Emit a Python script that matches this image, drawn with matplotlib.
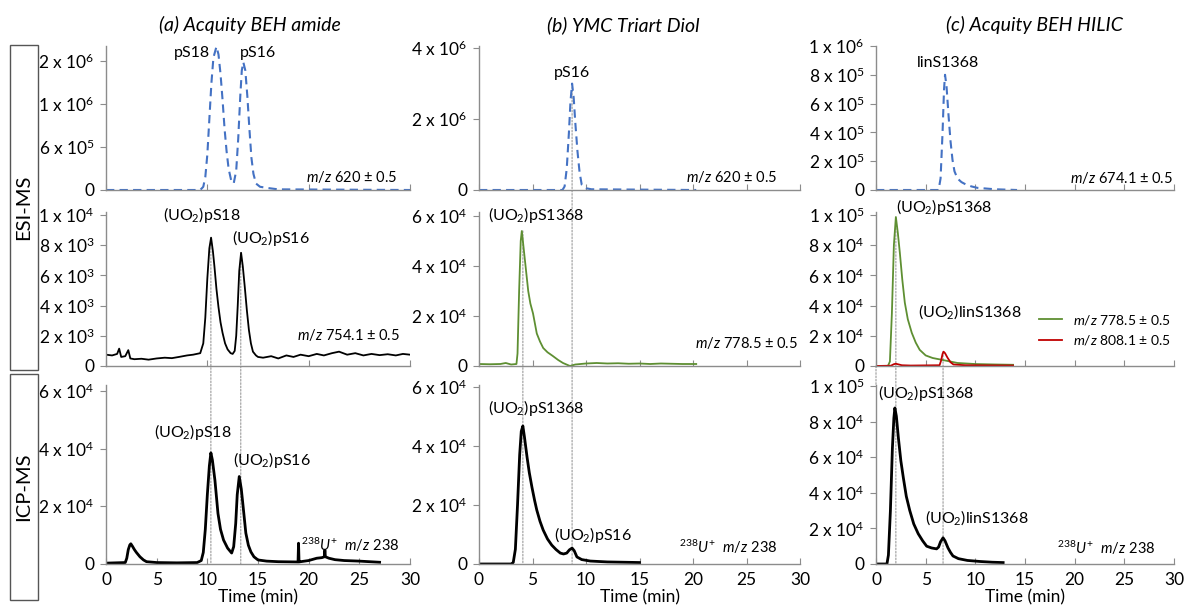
import matplotlib
matplotlib.use("Agg")
import matplotlib.pyplot as plt
from matplotlib.patches import ConnectionPatch, Rectangle

plt.rcParams["font.family"] = ["Lato", "DejaVu Sans"]
plt.rcParams["mathtext.fontset"] = "custom"
plt.rcParams["mathtext.rm"] = "Lato"
plt.rcParams["mathtext.it"] = "Lato:italic"
plt.rcParams["mathtext.bf"] = "Lato:bold"
plt.rcParams["lines.solid_joinstyle"] = "round"
plt.rcParams["lines.dash_joinstyle"] = "round"

# ------------------------------------------------
# DATA  (time in min, intensity in counts)
# ------------------------------------------------

# (a) Acquity BEH amide
a_esi1_t = [0, 9.3, 9.6, 9.8, 10.0, 10.2, 10.4, 10.6, 10.9, 11.1, 11.3, 11.5, 11.7, 11.9,
            12.1, 12.35, 12.6, 12.85, 13.05, 13.25, 13.4, 13.55, 13.75, 13.95, 14.15,
            14.35, 14.55, 14.8, 15.2, 16.0, 17, 30]
a_esi1_y = [0, 0, 0.05e6, 0.2e6, 0.55e6, 1.1e6, 1.65e6, 2.05e6, 2.22e6, 2.1e6, 1.8e6,
            1.4e6, 0.95e6, 0.6e6, 0.33e6, 0.15e6, 0.1e6, 0.3e6, 0.8e6, 1.45e6, 1.85e6,
            1.98e6, 1.85e6, 1.45e6, 0.95e6, 0.5e6, 0.25e6, 0.1e6, 0.05e6, 0.03e6,
            0.01e6, 0]

a_esi2_t = [0, 0.6, 1.1, 1.3, 1.5, 1.9, 2.2, 2.4, 2.8, 3.5, 4.2, 5.0, 5.8, 6.5, 7.2,
            8.0, 8.6, 9.3, 9.6, 9.8, 10.0, 10.2, 10.37, 10.55, 10.7, 10.9, 11.1, 11.3,
            11.5, 11.75, 12.0, 12.3, 12.5, 12.7, 12.85, 13.0, 13.15, 13.33, 13.5, 13.7,
            13.9, 14.1, 14.3, 14.5, 14.8, 15.0, 15.5, 16.3, 17.0, 17.8, 18.5, 19.2,
            20.0, 20.8, 21.5, 22.3, 23.0, 23.8, 24.6, 25.4, 26.2, 27.0, 27.8, 28.6,
            29.3, 30]
a_esi2_y = [750, 700, 800, 1150, 600, 650, 1050, 500, 450, 480, 420, 500, 550, 520,
            600, 700, 750, 850, 1500, 3200, 5800, 7800, 8500, 7600, 6600, 5100, 3900,
            2900, 2200, 1500, 1100, 850, 800, 1000, 2000, 4000, 6300, 7500, 6600, 5200,
            3700, 2400, 1500, 950, 700, 600, 550, 650, 500, 700, 600, 750, 650, 800,
            700, 850, 950, 750, 850, 700, 800, 720, 780, 700, 800, 750]

a_icp_t = [0, 1.9, 2.05, 2.2, 2.35, 2.45, 2.6, 2.8, 3.0, 3.35, 3.7, 4.0, 5.0, 7.0, 9.0,
           9.4, 9.6, 9.8, 10.0, 10.2, 10.35, 10.5, 10.75, 11.05, 11.3, 11.6, 12.0,
           12.4, 12.6, 12.8, 12.95, 13.15, 13.35, 13.5, 13.8, 14.05, 14.3, 14.6, 15.0,
           15.85, 17.0, 18.95, 19.0, 19.05, 19.2, 20.0, 20.8, 21.3, 21.55, 21.6, 21.65,
           22.0, 22.6, 23.5, 25.0, 27.0]
a_icp_y = [300, 500, 2000, 5000, 6600, 7000, 6200, 5000, 4000, 2500, 1400, 800, 500,
           400, 500, 1200, 4000, 12000, 24000, 34000, 38500, 36000, 29000, 17500,
           12000, 8300, 5500, 3800, 6000, 14000, 24000, 30300, 26000, 21000, 10700,
           6500, 4200, 2500, 1400, 1000, 800, 700, 7200, 700, 800, 1200, 2000, 2200,
           2500, 4800, 2500, 2000, 1500, 1200, 1000, 600]

# (b) YMC Triart Diol
b_esi1_t = [0, 7.8, 8.0, 8.2, 8.4, 8.55, 8.7, 8.85, 9.0, 9.2, 9.4, 9.6, 10.0, 10.5, 20.3]
b_esi1_y = [0, 0, 0.1e6, 0.6e6, 1.6e6, 2.5e6, 3.0e6, 2.6e6, 1.9e6, 1.1e6, 0.5e6,
            0.15e6, 0.05e6, 0.02e6, 0]

b_esi2_t = [0, 1.0, 2.0, 2.5, 3.0, 3.5, 3.6, 3.75, 3.9, 4.0, 4.1, 4.2, 4.4, 4.6, 4.8,
            5.05, 5.4, 5.7, 6.0, 6.4, 6.9, 7.4, 7.85, 8.5, 9.0, 10, 11, 12, 13, 14,
            15, 16, 17, 18, 19, 20.3]
b_esi2_y = [800, 700, 800, 1200, 600, 800, 5000, 30000, 50000, 54000, 50000, 46000,
            38000, 30000, 25000, 21000, 13000, 9800, 7200, 5500, 4000, 2400, 1200, 0,
            600, 1000, 1200, 1000, 1100, 900, 1000, 800, 1000, 900, 800, 800]

b_icp_t = [0, 3.0, 3.2, 3.4, 3.6, 3.8, 3.95, 4.1, 4.25, 4.5, 4.7, 4.95, 5.2, 5.4, 5.7,
           6.0, 6.4, 6.8, 7.2, 7.6, 7.9, 8.2, 8.45, 8.7, 8.9, 9.15, 9.6, 10.4, 12.0,
           15.0]
b_icp_y = [0, 0, 500, 5000, 20000, 37000, 45000, 46800, 43000, 36000, 31000, 26000,
           21500, 18300, 14500, 11500, 8500, 6400, 4900, 3700, 3400, 3700, 4800, 5400,
           4500, 2400, 1500, 1000, 700, 500]

# (c) Acquity BEH HILIC
c_esi1_t = [0, 6.3, 6.5, 6.7, 6.85, 6.95, 7.1, 7.3, 7.5, 7.7, 7.9, 8.2, 8.6, 9.0, 9.6,
            10.2, 12, 14.2]
c_esi1_y = [0, 0, 0.8e5, 4.0e5, 7.0e5, 8.0e5, 7.2e5, 5.2e5, 3.4e5, 2.1e5, 1.3e5,
            0.8e5, 0.55e5, 0.4e5, 0.25e5, 0.15e5, 0.05e5, 0]

c_esi2_t = [0, 1.2, 1.4, 1.6, 1.8, 2.0, 2.2, 2.4, 2.65, 2.9, 3.2, 3.6, 4.0, 4.4, 5.0,
            5.7, 6.7, 8.2, 10.0, 12.0, 13.8]
c_esi2_y = [0, 0, 3000, 35000, 80000, 98700, 88000, 75000, 57000, 42000, 31000, 22000,
            15500, 10700, 7000, 5300, 4000, 2000, 1300, 1000, 800]

c_esi3_t = [0, 1.5, 1.8, 2.0, 2.3, 2.6, 3.5, 6.4, 6.55, 6.7, 6.8, 6.95, 7.2, 7.5, 7.8,
            9.0, 13.8]
c_esi3_y = [0, 200, 1200, 1500, 1000, 500, 300, 500, 3500, 8000, 9500, 8500, 5500,
            2500, 1000, 500, 300]

c_icp_t = [0, 1.1, 1.25, 1.45, 1.65, 1.8, 1.9, 2.05, 2.25, 2.5, 2.75, 3.05, 3.4, 3.8,
           4.25, 4.7, 5.1, 5.6, 6.1, 6.3, 6.5, 6.75, 6.95, 7.25, 7.5, 7.75, 8.3, 9.2,
           10.5, 11.7, 12.8]
c_icp_y = [0, 0, 5000, 30000, 65000, 82000, 87600, 83000, 71000, 58000, 48500, 38000,
           30000, 22500, 17000, 13000, 10000, 9000, 8500, 9500, 12500, 14700, 13000,
           9000, 6500, 4500, 3000, 2000, 1400, 1000, 800]

# y tick positions / labels per panel
yt_a1 = [0, 0.667e6, 1.333e6, 2.0e6]
yl_a1 = ["0", r"6 x 10$^{5}$", r"1 x 10$^{6}$", r"2 x 10$^{6}$"]
yt_b1 = [0, 2e6, 4e6]
yl_b1 = ["0", r"2 x 10$^{6}$", r"4 x 10$^{6}$"]
yt_c1 = [0, 2e5, 4e5, 6e5, 8e5, 1e6]
yl_c1 = ["0", r"2 x 10$^{5}$", r"4 x 10$^{5}$", r"6 x 10$^{5}$", r"8 x 10$^{5}$", r"1 x 10$^{6}$"]
yt_a2 = [0, 2e3, 4e3, 6e3, 8e3, 1e4]
yl_a2 = ["0", r"2 x 10$^{3}$", r"4 x 10$^{3}$", r"6 x 10$^{3}$", r"8 x 10$^{3}$", r"1 x 10$^{4}$"]
yt_b2 = [0, 2e4, 4e4, 6e4]
yl_b2 = ["0", r"2 x 10$^{4}$", r"4 x 10$^{4}$", r"6 x 10$^{4}$"]
yt_c2 = [0, 2e4, 4e4, 6e4, 8e4, 1e5]
yl_c2 = ["0", r"2 x 10$^{4}$", r"4 x 10$^{4}$", r"6 x 10$^{4}$", r"8 x 10$^{4}$", r"1 x 10$^{5}$"]

titles = ["(a) Acquity BEH amide", "(b) YMC Triart Diol", "(c) Acquity BEH HILIC"]

BLUE = "#4472C4"
GREEN = "#5E8F32"
RED = "#C00000"
AXC = "#8c8c8c"
TICKFS = 12.5

W, H = 1187, 612
fig = plt.figure(figsize=(W / 100, H / 100), dpi=100)


def add_ax(x0, x1, ytop, ybot):
    ax = fig.add_axes([x0 / W, 1 - ybot / H, (x1 - x0) / W, (ybot - ytop) / H])
    ax.set_facecolor("none")
    for s in ["top", "right"]:
        ax.spines[s].set_visible(False)
    for s in ["left", "bottom"]:
        ax.spines[s].set_color(AXC)
        ax.spines[s].set_linewidth(1.0)
    ax.tick_params(axis="y", direction="out", length=4, color=AXC, labelsize=TICKFS, pad=4)
    ax.tick_params(axis="x", direction="in", length=4, color=AXC, labelsize=TICKFS, pad=6)
    ax.set_xlim(0, 30)
    return ax


cols = [(106, 410), (479, 800), (876, 1174)]
rows = [(46, 190), (212, 366), (385, 564)]

axes = [[add_ax(c[0], c[1], r[0], r[1]) for c in cols] for r in rows]

ylims = [[2.23e6, 4.06e6, 1.0e6],
         [10.2e3, 6.16e4, 10.2e4],
         [6.2e4, 6.07e4, 10.05e4]]
yticks = [[(yt_a1, yl_a1), (yt_b1, yl_b1), (yt_c1, yl_c1)],
          [(yt_a2, yl_a2), (yt_b2, yl_b2), (yt_c2, yl_c2)],
          [(yt_b2, yl_b2), (yt_b2, yl_b2), (yt_c2, yl_c2)]]

for i in range(3):
    for j in range(3):
        ax = axes[i][j]
        ax.set_ylim(0, ylims[i][j])
        ax.set_yticks(yticks[i][j][0])
        ax.set_yticklabels(yticks[i][j][1])
        step = 10 if (j == 0 and i < 2) else 5
        ax.set_xticks(range(0, 31, step))
        if i < 2:
            ax.set_xticklabels([])
        else:
            ax.set_xlabel("Time (min)", fontsize=12.5, labelpad=1)

# ------------------------------------------------
# CURVES
# ------------------------------------------------

dash = dict(color=BLUE, lw=1.5, dashes=(4, 2.5))
axes[0][0].plot(a_esi1_t, a_esi1_y, **dash)
axes[0][1].plot(b_esi1_t, b_esi1_y, **dash)
axes[0][2].plot(c_esi1_t, c_esi1_y, **dash)

axes[1][0].plot(a_esi2_t, a_esi2_y, color="black", lw=1.3)
axes[1][1].plot(b_esi2_t, b_esi2_y, color=GREEN, lw=1.3)
l1, = axes[1][2].plot(c_esi2_t, c_esi2_y, color=GREEN, lw=1.3)
l2, = axes[1][2].plot(c_esi3_t, c_esi3_y, color=RED, lw=1.3)

axes[2][0].plot(a_icp_t, a_icp_y, color="black", lw=2.0)
axes[2][1].plot(b_icp_t, b_icp_y, color="black", lw=2.0)
axes[2][2].plot(c_icp_t, c_icp_y, color="black", lw=2.0)

axes[1][2].legend([l1, l2],
                  [r"$\mathit{m/z\ 778.5}$ ± 0.5", r"$\mathit{m/z}$ 808.1 ± 0.5"],
                  loc="center right", bbox_to_anchor=(1.03, 0.235), frameon=False,
                  fontsize=10, handlelength=1.6, handletextpad=0.8, labelspacing=0.45)

# ------------------------------------------------
# LABELS
# ------------------------------------------------

ann = dict(fontsize=11.5, ha="center", va="center", clip_on=False)
uo2 = r"(UO$_{2}$)"

axes[0][0].text(8.5, 2.12e6, "pS18", **ann)
axes[0][0].text(15.0, 2.12e6, "pS16", **ann)
axes[0][1].text(8.7, 3.3e6, "pS16", **ann)
axes[0][2].text(7.25, 8.83e5, "linS1368", **ann)

axes[1][0].text(9.5, 10.0e3, uo2 + "pS18", **ann)
axes[1][0].text(16.3, 8.5e3, uo2 + "pS16", **ann)
axes[1][1].text(5.3, 6.04e4, uo2 + "pS1368", **ann)
axes[1][2].text(6.85, 10.5e4, uo2 + "pS1368", **ann)
axes[1][2].text(9.4, 3.58e4, uo2 + "linS1368", **ann)

axes[2][0].text(8.6, 4.58e4, uo2 + "pS18", **ann)
axes[2][0].text(16.4, 3.61e4, uo2 + "pS16", **ann)
axes[2][1].text(5.3, 5.29e4, uo2 + "pS1368", **ann)
axes[2][1].text(10.6, 0.98e4, uo2 + "pS16", **ann)
axes[2][2].text(5.0, 9.6e4, uo2 + "pS1368", **ann)
axes[2][2].text(10.2, 2.58e4, uo2 + "linS1368", **ann)

mz = dict(fontsize=10.5, ha="right", va="center")
axes[0][0].text(28.7, 0.2e6, r"$\mathit{m/z\ 620}$ ± 0.5", **mz)
axes[0][1].text(27.9, 0.37e6, r"$\mathit{m/z\ 620}$ ± 0.5", **mz)
axes[0][2].text(29.9, 0.83e5, r"$\mathit{m/z\ 674.1}$ ± 0.5", **mz)
axes[1][0].text(29.0, 2.05e3, r"$\mathit{m/z\ 754.1}$ ± 0.5", **mz)
axes[1][1].text(29.8, 0.92e4, r"$\mathit{m/z\ 778.5}$ ± 0.5", **mz)
u238 = r"$^{238}\mathit{U}^{+}\ \ \mathit{m/z\ 238}$"
axes[2][0].text(29.0, 0.66e4, u238, **mz)
axes[2][1].text(27.9, 0.58e4, u238, **mz)
axes[2][2].text(28.1, 0.9e4, u238, **mz)

for j, xc in enumerate([250, 623, 1034]):
    fig.text(xc / W, 1 - 25 / H, titles[j], fontsize=14, style="italic",
             ha="center", va="center")

# ------------------------------------------------
# DOTTED GUIDE LINES
# ------------------------------------------------

guides = [
    (0, 10.35, 1, 8.5e3, 2, 0),
    (0, 13.3, 1, 7.5e3, 2, 0),
    (1, 8.7, 0, 3.0e6, 2, 0),
    (1, 4.1, 1, 5.4e4, 2, 0),
    (2, 0.0, 1, 0, 2, 10.05e4),
    (2, 2.0, 1, 9.8e4, 2, 0),
    (2, 6.75, 1, 0.95e4, 2, 0),
]
for col, t, ra, ya, rb, yb in guides:
    con = ConnectionPatch(xyA=(t, ya), coordsA=axes[ra][col].transData,
                          xyB=(t, yb), coordsB=axes[rb][col].transData,
                          color="#9a9a9a", lw=0.8, linestyle=(0, (1.5, 1.5)), zorder=-1)
    fig.add_artist(con)

# ------------------------------------------------
# ROW LABEL BOXES
# ------------------------------------------------

for (y0, y1, lab) in [(45, 370, "ESI-MS"), (374, 600, "ICP-MS")]:
    fig.add_artist(Rectangle((10 / W, 1 - y1 / H), 28 / W, (y1 - y0) / H,
                             transform=fig.transFigure, fill=False,
                             edgecolor="#555555", lw=1.0))
    fig.text(24 / W, 1 - (y0 + y1) / 2 / H, lab, rotation=90, fontsize=14.5,
             ha="center", va="center")

fig.savefig("out.png", dpi=100)
